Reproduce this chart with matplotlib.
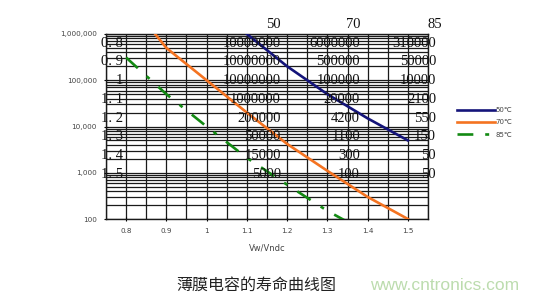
import matplotlib.pyplot as plt
import matplotlib.ticker as ticker
import numpy as np

# voltage ratio rows and life (hours) per temperature column
ratio = [0.8, 0.9, 1.0, 1.1, 1.2, 1.3, 1.4, 1.5]
row_labels = ["0. 8", "0. 9", "1", "1. 1", "1. 2", "1. 3", "1. 4", "1. 5"]
temps = ["50", "70", "85"]
life_50 = [10000000, 10000000, 10000000, 1000000, 200000, 50000, 15000, 5000]
life_70 = [6000000, 500000, 100000, 20000, 4200, 1100, 300, 100]
life_85 = [310000, 50000, 10000, 2100, 550, 150, 50, 50]
cell_text = [
    ["10000000", "10000000", "10000000", "1000000", "200000", "50000", "15000", "5000"],
    ["6000000", "500000", "100000", "20000", "4200", "1100", "300", "100"],
    ["310000", "50000", "10000", "2100", "550", "150", "50", "50"],
]
legend_labels = ["50\u2103", "70\u2103", "85\u2103"]
x_ticks = [0.8, 0.9, 1.0, 1.1, 1.2, 1.3, 1.4, 1.5]
x_tick_labels = ["0.8", "0.9", "1", "1.1", "1.2", "1.3", "1.4", "1.5"]
y_ticks = [100, 1000, 10000, 100000, 1000000]
y_tick_labels = ["100", "1,000", "10,000", "100,000", "1,000,000"]

fig = plt.figure(figsize=(5.56, 3.06), dpi=100)
ax = fig.add_axes([0.1906, 0.2843, 0.5792, 0.6046])

# 50C curve only drawn from 1.1 upward (earlier points are off-scale)
l50, = ax.plot(ratio[3:], life_50[3:], color="#14147a", lw=1.9, label=legend_labels[0], zorder=3)
l70, = ax.plot(ratio, life_70, color="#f47321", lw=1.9, label=legend_labels[1], zorder=3)
l85, = ax.plot(ratio, life_85, color="#138a13", lw=1.9, dashes=(6, 4.5, 1.5, 4.5),
               label=legend_labels[2], zorder=3)

ax.set_yscale("log")
ax.set_xlim(0.75, 1.55)
ax.set_ylim(100, 1000000)

ax.set_xticks(x_ticks)
ax.set_xticklabels(x_tick_labels)
ax.set_yticks(y_ticks)
ax.set_yticklabels(y_tick_labels)
ax.xaxis.set_minor_locator(ticker.MultipleLocator(0.05))
ax.yaxis.set_minor_locator(ticker.LogLocator(base=10, subs=np.arange(2, 10)))
ax.yaxis.set_minor_formatter(ticker.NullFormatter())

ax.grid(True, which="both", axis="both", color="#1a1a1a", lw=0.9, zorder=1)
ax.set_axisbelow(True)
ax.tick_params(axis="both", which="major", labelsize=5.2, labelcolor="#444444",
               length=3, width=0.8, direction="inout", pad=5)
ax.tick_params(axis="both", which="minor", length=0)
for s in ax.spines.values():
    s.set_color("#1a1a1a")
    s.set_linewidth(1.0)

ax.set_xlabel("Vw/Vndc", fontsize=6, color="#444444", labelpad=7)

# overlaid table of life values
serif = ["Liberation Serif", "DejaVu Serif"]
row_y = [0.951 - i * 0.1013 for i in range(len(row_labels))]
for lab, yy in zip(row_labels, row_y):
    ax.text(0.053, yy, lab, transform=ax.transAxes, ha="right", va="center",
            fontsize=10.5, family=serif, color="#111111", zorder=4, clip_on=False)
col_x = [0.543, 0.789, 1.025]
head_x = [0.519, 0.767, 1.022]
for t, hx in zip(temps, head_x):
    ax.text(hx, 1.054, t, transform=ax.transAxes, ha="center", va="center",
            fontsize=10.5, family=serif, color="#111111", clip_on=False)
for col, cx in zip(cell_text, col_x):
    for txt, yy in zip(col, row_y):
        ax.text(cx, yy, txt, transform=ax.transAxes, ha="right", va="center",
                fontsize=10.5, family=serif, color="#111111", zorder=4, clip_on=False)

fig.legend(handles=[l50, l70, l85], loc="center left", bbox_to_anchor=(0.81, 0.6),
           frameon=False, fontsize=5, labelcolor="#444444", handlelength=5.5,
           handletextpad=0.1, labelspacing=0.9)

fig.text(0.318, 0.068, "薄膜电容的寿命曲线图", fontsize=11.5,
         family=["Noto Sans CJK SC", "DejaVu Sans"], color="#222222",
         ha="left", va="center")
fig.text(0.665, 0.068, "www.cntronics.com", fontsize=12.5,
         family=["Liberation Sans", "DejaVu Sans"], color="#bcdcae",
         ha="left", va="center")

fig.savefig("out.png", dpi=100)
